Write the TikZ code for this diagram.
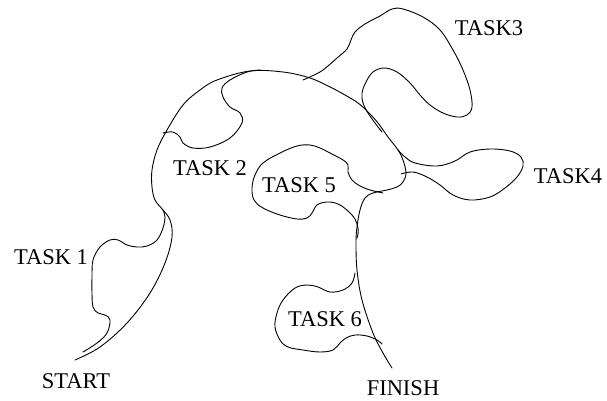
\documentclass[tikz,border=0pt]{standalone}
\usepackage{fontspec}
\setmainfont{Liberation Serif}
\begin{document}
\begin{tikzpicture}[x=1pt,y=-1pt,
  stroke/.style={line width=0.9pt,line join=round,line cap=round},
  lbl/.style={font=\fontsize{22.5}{27}\selectfont,inner sep=0pt}]
\useasboundingbox (0,0) rectangle (607,401);
% main path START -> FINISH
\draw[stroke] plot[smooth,tension=0.6] coordinates {(75,360) (100,347) (127,323) (150,293) (165,263) (172,237) (170,220) (163,210) (155,200) (152,187) (152,170) (157,150) (167,130) (183,105) (200,90) (217,80) (250,71) (283,72) (310,78) (330,87) (345,95) (358,103) (368,112) (378,123) (388,137) (398,150) (403,160) (406,173) (403,182) (397,187) (387,190) (373,193) (365,198) (360,210) (357,227) (356,243) (357,270) (362,300) (373,333) (383,353) (392,368)};
% task 1 loop
\draw[stroke] plot[smooth,tension=0.6] coordinates {(83,352) (97,343) (107,333) (110,320) (105,315) (98,313) (93,307) (92,293) (92,277) (93,260) (100,247) (110,240) (118,240) (127,245) (137,247) (147,246) (157,240) (163,228) (165,217) (163,210)};
% task 2 loop
\draw[stroke] plot[smooth,tension=0.6] coordinates {(163,133) (173,132) (180,137) (183,143) (193,148) (210,147) (230,138) (242,123) (240,113) (230,107) (223,97) (222,88) (230,80) (247,72) (260,70)};
% task 3 loop
\draw[stroke] plot[smooth,tension=0.6] coordinates {(303,80) (312,76) (323,70) (337,58) (347,49) (351,40) (355,32) (365,24) (380,16) (392,9) (403,9) (423,17) (440,30) (453,50) (463,70) (470,90) (472,107) (467,115) (457,117) (443,113) (430,105) (420,95) (410,83) (397,72) (384,68) (373,72) (366,82) (362,93) (363,103) (368,113) (375,123) (382,132)};
% task 4 loop
\draw[stroke] plot[smooth,tension=0.6] coordinates {(398,150) (405,157) (415,163) (437,166) (455,161) (470,152) (490,149) (510,151) (521,157) (523,166) (517,177) (505,188) (490,197) (470,200) (453,195) (440,185) (427,177) (413,172) (401,174)};
% task 5 loop
\draw[stroke] plot[smooth,tension=0.6] coordinates {(383,193) (370,190) (360,186) (352,180) (348,172) (348,165) (343,160) (330,153) (320,148) (310,145) (297,146) (280,153) (263,163) (255,175) (252,188) (254,200) (263,208) (280,215) (297,219) (307,218) (312,213) (317,205) (327,202) (338,204) (348,211) (355,219) (358,228) (358,234) (357,238)};
% task 6 loop
\draw[stroke] plot[smooth,tension=0.6] coordinates {(355,273) (352,283) (343,290) (330,292) (318,287) (307,285) (295,288) (283,300) (277,313) (275,327) (280,340) (288,347) (303,350) (320,352) (333,350) (340,343) (346,338) (355,335) (367,336) (377,340) (382,344)};
% labels
\node[lbl] (start) at (76,381) {START};
\node[lbl] (finish) at (403,388) {FINISH};
\node[lbl] (t1) at (51,257) {TASK 1};
\node[lbl] (t2) at (210,168) {TASK 2};
\node[lbl] (t3) at (489,28) {TASK3};
\node[lbl] (t4) at (568,176) {TASK4};
\node[lbl] (t5) at (299,185) {TASK 5};
\node[lbl] (t6) at (325,319) {TASK 6};
\end{tikzpicture}
\end{document}
